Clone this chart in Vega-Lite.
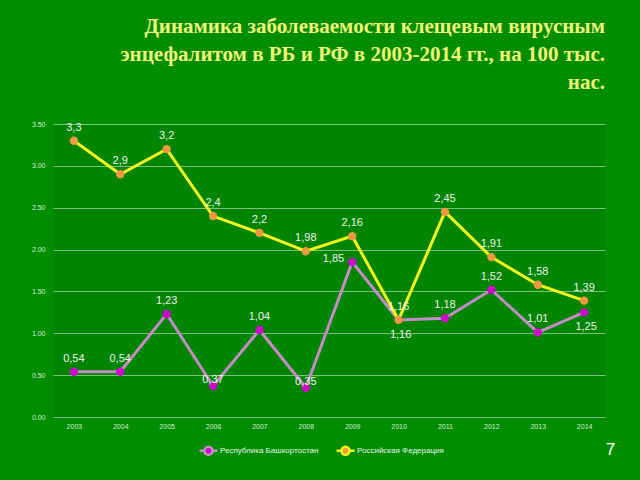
{
  "$schema": "https://vega.github.io/schema/vega-lite/v6.json",
  "autosize": "none",
  "width": 552,
  "height": 293,
  "padding": {"left": 53, "top": 124, "right": 35, "bottom": 63},
  "background": "#008e00",
  "config": {
    "view": {"fill": "#008500", "stroke": null},
    "font": "Liberation Sans"
  },
  "title": {
    "text": ["Динамика заболеваемости клещевым вирусным", "энцефалитом в РБ и РФ в 2003-2014 гг., на 100 тыс.", "нас."],
    "anchor": "end",
    "frame": "group",
    "font": "Liberation Serif",
    "fontSize": 21,
    "fontWeight": "bold",
    "color": "#f2f27a",
    "align": "right",
    "lineHeight": 28,
    "offset": 27
  },
  "data": {
    "values": [
      {"year": "2003", "series": "Республика Башкортостан", "v": 0.54},
      {"year": "2004", "series": "Республика Башкортостан", "v": 0.54},
      {"year": "2005", "series": "Республика Башкортостан", "v": 1.23},
      {"year": "2006", "series": "Республика Башкортостан", "v": 0.37},
      {"year": "2007", "series": "Республика Башкортостан", "v": 1.04},
      {"year": "2008", "series": "Республика Башкортостан", "v": 0.35},
      {"year": "2009", "series": "Республика Башкортостан", "v": 1.85},
      {"year": "2010", "series": "Республика Башкортостан", "v": 1.16},
      {"year": "2011", "series": "Республика Башкортостан", "v": 1.18},
      {"year": "2012", "series": "Республика Башкортостан", "v": 1.52},
      {"year": "2013", "series": "Республика Башкортостан", "v": 1.01},
      {"year": "2014", "series": "Республика Башкортостан", "v": 1.25},
      {"year": "2003", "series": "Российская Федерация", "v": 3.3},
      {"year": "2004", "series": "Российская Федерация", "v": 2.9},
      {"year": "2005", "series": "Российская Федерация", "v": 3.2},
      {"year": "2006", "series": "Российская Федерация", "v": 2.4},
      {"year": "2007", "series": "Российская Федерация", "v": 2.2},
      {"year": "2008", "series": "Российская Федерация", "v": 1.98},
      {"year": "2009", "series": "Российская Федерация", "v": 2.16},
      {"year": "2010", "series": "Российская Федерация", "v": 1.16},
      {"year": "2011", "series": "Российская Федерация", "v": 2.45},
      {"year": "2012", "series": "Российская Федерация", "v": 1.91},
      {"year": "2013", "series": "Российская Федерация", "v": 1.58},
      {"year": "2014", "series": "Российская Федерация", "v": 1.39}
    ]
  },
  "transform": [
    {"calculate": "replace(toString(datum.v), '.', ',')", "as": "lbl"}
  ],
  "encoding": {
    "x": {
      "field": "year", "type": "ordinal",
      "scale": {"type": "point", "padding": 0.45},
      "axis": {"title": "7", "titleX": 557, "titleY": 32, "titleBaseline": "middle", "titleAlign": "center", "titleFontSize": 17, "titleFontWeight": "normal", "titleColor": "#ffffff", "titleFont": "Liberation Sans",
        "labelAngle": 0, "labelFontSize": 7, "labelColor": "#d8ecd8", "domain": false, "ticks": false, "labelPadding": 5, "grid": false}
    },
    "y": {
      "field": "v", "type": "quantitative",
      "scale": {"domain": [0, 3.5]},
      "axis": {"title": null, "values": [0, 0.5, 1, 1.5, 2, 2.5, 3, 3.5], "format": ".2f", "labelFontSize": 7, "labelColor": "#d8ecd8", "domain": false, "ticks": false, "labelPadding": 8, "gridColor": "#7fbf7f", "gridWidth": 1.2}
    }
  },
  "layer": [
    {
      "mark": {"type": "line", "strokeWidth": 3},
      "encoding": {
        "color": {
          "field": "series", "type": "nominal",
          "scale": {"domain": ["Республика Башкортостан", "Российская Федерация"], "range": ["#c48cc4", "#f4f41e"]},
          "legend": {
            "title": null, "orient": "none", "direction": "horizontal",
            "legendX": 145, "legendY": 316,
            "labelFontSize": 8, "labelColor": "#e8f4e8",
            "symbolType": "M-1,0 H-0.45 M0.45,0 H1 M0.45,0 A0.45,0.45 0 1 1 -0.45,0 A0.45,0.45 0 1 1 0.45,0 Z",
            "symbolSize": 324, "symbolStrokeWidth": 2.5,
            "columnPadding": 12, "labelOffset": 1,
            "encode": {
              "symbols": {"update": {"fill": [{"test": "datum.value === 'Российская Федерация'", "value": "#f09a40"}, {"value": "#cc0acc"}], "fillOpacity": {"value": 1}}}
            }
          }
        }
      }
    },
    {
      "mark": {"type": "point", "filled": true, "size": 70, "opacity": 1},
      "encoding": {
        "fill": {
          "field": "series", "type": "nominal",
          "scale": {"domain": ["Республика Башкортостан", "Российская Федерация"], "range": ["#cc0acc", "#f09a40"]},
          "legend": null
        }
      }
    },
    {
      "transform": [{"filter": "datum.series == 'Российская Федерация'"}],
      "mark": {"type": "text", "dy": -13, "fontSize": 11, "color": "#f0f0f0"},
      "encoding": {"text": {"field": "lbl"}}
    },
    {
      "transform": [{"filter": "datum.series == 'Республика Башкортостан' && datum.year != '2009' && datum.year != '2010' && datum.year != '2014' && datum.year != '2006' && datum.year != '2008'"}],
      "mark": {"type": "text", "dy": -13, "fontSize": 11, "color": "#f0f0f0"},
      "encoding": {"text": {"field": "lbl"}}
    },
    {
      "transform": [{"filter": "datum.series == 'Республика Башкортостан' && (datum.year == '2006' || datum.year == '2008')"}],
      "mark": {"type": "text", "dy": -6, "fontSize": 11, "color": "#f0f0f0"},
      "encoding": {"text": {"field": "lbl"}}
    },
    {
      "transform": [{"filter": "datum.series == 'Республика Башкортостан' && (datum.year == '2010' || datum.year == '2014')"}],
      "mark": {"type": "text", "dy": 15, "dx": 2, "fontSize": 11, "color": "#f0f0f0"},
      "encoding": {"text": {"field": "lbl"}}
    },
    {
      "transform": [{"filter": "datum.series == 'Республика Башкортостан' && datum.year == '2009'"}],
      "mark": {"type": "text", "dx": -8, "dy": -3, "align": "right", "fontSize": 11, "color": "#f0f0f0"},
      "encoding": {"text": {"field": "lbl"}}
    }
  ]
}
